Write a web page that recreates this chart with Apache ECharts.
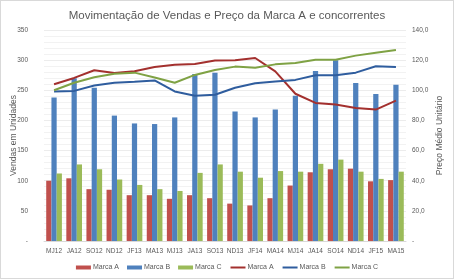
<!DOCTYPE html>
<html>
<head>
<meta charset="utf-8">
<script src="https://cdn.jsdelivr.net/npm/echarts@6/dist/echarts.min.js"></script>
<style>
  html, body { margin: 0; padding: 0; background: #fff; }
  #chart { width: 452px; height: 277px; border: 1px solid #d9d9d9; }
</style>
</head>
<body>
<div id="chart"></div>
<script>
// períodos (bimestres)
const categories = ['MJ12', 'JA12', 'SO12', 'ND12', 'JF13', 'MA13', 'MJ13', 'JA13', 'SO13',
  'ND13', 'JF14', 'MA14', 'MJ14', 'JA14', 'SO14', 'ND14', 'JF15', 'MA15'];

// vendas em unidades
const vendasA = [100, 104, 86, 85, 76, 76, 70, 76, 71, 62, 59, 71, 92, 114, 119, 120, 99, 101];
const vendasB = [238, 270, 254, 208, 195, 194, 205, 277, 279, 215, 205, 218, 241, 282, 300, 262, 244, 259];
const vendasC = [112, 127, 119, 102, 93, 86, 83, 113, 127, 115, 105, 116, 115, 128, 135, 115, 103, 115];

// preço médio unitário
const precoA = [104, 108.2, 113.3, 111.5, 112.6, 115.5, 117, 117.4, 119.8, 120, 121.4, 112.6, 97.7, 91.6, 90.5, 88.3, 87.2, 93.1];
const precoB = [99.2, 99.6, 103.2, 105, 105.6, 106.5, 99.2, 96.4, 97, 101.7, 104.7, 105.8, 106.9, 110, 110, 111.7, 115.9, 115.5];
const precoC = [100, 105, 108.7, 111, 111.7, 108.5, 105, 110.2, 113.5, 115.7, 115, 117.2, 118.1, 120.3, 120.2, 123, 124.9, 126.7];

const chart = echarts.init(document.getElementById('chart'));
const txt = '#595959';
const font = 'Liberation Sans';

const barSeries = (name, data, color) => ({
  name, type: 'bar', data,
  barGap: '0%', barCategoryGap: '22%',
  itemStyle: { color }
});
const lineSeries = (name, data, color) => ({
  name: name + ' ', type: 'line', yAxisIndex: 1, data,
  showSymbol: false, symbol: 'none',
  lineStyle: { color, width: 2 }, itemStyle: { color }
});

chart.setOption({
  animation: false,
  title: {
    text: 'Movimentação de Vendas e Preço da Marca A e concorrentes',
    left: 'center', top: 4,
    textStyle: { color: txt, fontSize: 11.5, fontWeight: 'normal', fontFamily: font }
  },
  legend: {
    bottom: 2, left: 'center', itemGap: 8, itemWidth: 15, itemHeight: 4,
    textStyle: { color: txt, fontSize: 7, fontFamily: font, padding: [0, 0, 0, -3] },
    data: [
      { name: 'Marca A', icon: 'rect' }, { name: 'Marca B', icon: 'rect' }, { name: 'Marca C', icon: 'rect' },
      { name: 'Marca A ', itemStyle: { opacity: 0 } },
      { name: 'Marca B ', itemStyle: { opacity: 0 } },
      { name: 'Marca C ', itemStyle: { opacity: 0 } }
    ],
    formatter: n => n.trim()
  },
  grid: { left: 43, right: 47, top: 29, bottom: 37, outerBoundsMode: 'none' },
  xAxis: {
    type: 'category', data: categories,
    axisLine: { lineStyle: { color: '#d9d9d9' } },
    axisTick: { show: false },
    axisLabel: { color: txt, fontSize: 6.5, fontFamily: font, margin: 7, interval: 0 }
  },
  yAxis: [
    {
      type: 'value', min: 0, max: 350, interval: 50,
      name: 'Vendas em Unidades', nameLocation: 'middle', nameGap: 26,
      nameMoveOverlap: false,
      nameTextStyle: { color: txt, fontSize: 8.5, fontFamily: font },
      axisLabel: { color: txt, fontSize: 6.5, fontFamily: font, margin: 16,
        formatter: v => v === 0 ? '-' : String(v) },
      splitLine: { lineStyle: { color: '#ececec' } },
      minorTick: { show: false, splitNumber: 5 },
      minorSplitLine: { show: true, lineStyle: { color: '#f2f2f2' } }
    },
    {
      type: 'value', min: 0, max: 140, interval: 20,
      name: 'Preço Médio Unitário', nameLocation: 'middle', nameGap: 29,
      nameRotate: 90, nameMoveOverlap: false,
      nameTextStyle: { color: txt, fontSize: 8.5, fontFamily: font },
      axisLabel: { color: txt, fontSize: 6.5, fontFamily: font, margin: 6,
        formatter: v => v === 0 ? '-' : v.toFixed(1).replace('.', ',') },
      splitLine: { show: false }
    }
  ],
  series: [
    barSeries('Marca A', vendasA, '#C0504D'),
    barSeries('Marca B', vendasB, '#4F81BD'),
    barSeries('Marca C', vendasC, '#9BBB59'),
    lineSeries('Marca A', precoA, '#A3302E'),
    lineSeries('Marca B', precoB, '#2F5D9E'),
    lineSeries('Marca C', precoC, '#7FA244')
  ]
});

window.addEventListener('resize', () => chart.resize());
</script>
</body>
</html>
